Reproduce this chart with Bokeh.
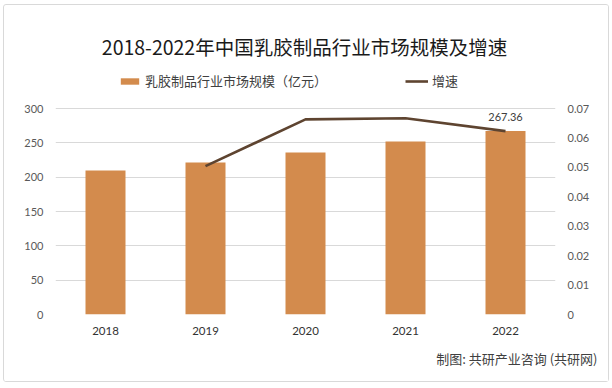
from bokeh.plotting import figure
from bokeh.models import (Range1d, LinearAxis, FixedTicker, ColumnDataSource, Legend,
                          LegendItem, Title, Label)
from bokeh.embed import file_html
from bokeh.resources import INLINE
from bokeh.core.properties import value

years = ["2018", "2019", "2020", "2021", "2022"]
market_size = [209.7, 221.4, 235.9, 252.0, 267.36]
growth_years = ["2019", "2020", "2021", "2022"]
growth_rate = [0.0504, 0.0663, 0.0667, 0.0623]
left_ticks = [0, 50, 100, 150, 200, 250, 300]
right_ticks = [0, 0.01, 0.02, 0.03, 0.04, 0.05, 0.06, 0.07]
right_tick_labels = ["0", "0.01", "0.02", "0.03", "0.04", "0.05", "0.06", "0.07"]
title_text = "2018-2022年中国乳胶制品行业市场规模及增速"
bar_name = "乳胶制品行业市场规模（亿元）"
line_name = "增速"
source_text = "制图: 共研产业咨询 (共研网)"
data_label = "267.36"

BAR = "#D38B4D"
LINE = "#5E4430"
GRID = "#D9D9D9"
AX = "#595959"
CJK = "Noto Sans CJK SC"
LAT = "Lato"

# frame spans from the top of the chart area down to the zero line; the value
# ranges are extended upward so that 0..300 sits in the lower part of the frame
LEFT_MAX = 300
RIGHT_MAX = 0.07
FRAME_H = 309.0
DATA_H = 206.0

p = figure(width=606, height=378, x_range=years,
           y_range=Range1d(0, LEFT_MAX * FRAME_H / DATA_H),
           output_backend="svg", toolbar_location=None,
           min_border_left=51, min_border_right=55, min_border_top=0, min_border_bottom=69)
p.outline_line_color = None
p.background_fill_color = "white"
p.border_fill_color = "white"
p.extra_y_ranges = {"growth": Range1d(0, RIGHT_MAX * FRAME_H / DATA_H)}

bars = ColumnDataSource(dict(x=years, y=market_size))
r_bar = p.vbar(x="x", top="y", width=0.4, source=bars, fill_color=BAR, line_color=None)

gsrc = ColumnDataSource(dict(x=growth_years, y=growth_rate))
r_line = p.line(x="x", y="y", source=gsrc, line_color=LINE, line_width=2.6, y_range_name="growth")

lsrc = ColumnDataSource(dict(x=[years[-1]], y=[market_size[-1]], t=[data_label]))
p.text(x="x", y="y", text="t", source=lsrc, y_offset=-14, text_align="center",
       text_baseline="middle", text_font=value(LAT), text_font_size="11px", text_color="#404040")

# axes
p.yaxis.ticker = FixedTicker(ticks=left_ticks)
ra = LinearAxis(y_range_name="growth", ticker=FixedTicker(ticks=right_ticks))
ra.major_label_overrides = {t: l for t, l in zip(right_ticks, right_tick_labels)}
p.add_layout(ra, "right")
for ax in [p.yaxis[0], ra, p.xaxis[0]]:
    ax.axis_line_color = None
    ax.major_tick_line_color = None
    ax.minor_tick_line_color = None
    ax.major_label_text_font = LAT
    ax.major_label_text_font_size = "11px"
    ax.major_label_text_color = AX
    ax.major_tick_in = 0
    ax.major_tick_out = 0
p.yaxis[0].major_label_standoff = 12
ra.major_label_standoff = 12
p.xaxis.major_label_standoff = 12
p.xaxis.major_label_text_font_size = "11.5px"
p.xaxis.major_label_text_color = "#333333"
p.xgrid.grid_line_color = None
p.ygrid.grid_line_color = GRID
p.ygrid.grid_line_width = 1

# legend (frame-relative pixel position, bottom-left corner)
legend = Legend(items=[LegendItem(label=bar_name, renderers=[r_bar]),
                       LegendItem(label=line_name, renderers=[r_line])],
                orientation="horizontal", location=(63, 224),
                label_text_font=CJK, label_text_font_size="13px", label_text_color="#404040",
                glyph_width=23, glyph_height=8, label_standoff=4, spacing=78,
                padding=0, margin=0, border_line_color=None, background_fill_alpha=0)
p.add_layout(legend, "center")

# title
p.add_layout(Label(x=249, y=268, x_units="screen", y_units="screen", text=title_text,
                   text_font=CJK, text_font_size="19.5px", text_color="#1A1A1A",
                   text_align="center", text_baseline="middle"))

# footer
foot = Title(text=source_text, align="right", offset=-42, text_font=CJK,
             text_font_size="13px", text_font_style="normal", text_color="#404040", standoff=18)
p.add_layout(foot, "below")

p.styles = {"border": "1px solid #D9D9D9", "border-radius": "3px",
            "margin-left": "3px", "margin-top": "4px"}

open("out.html", "w").write(file_html(p, INLINE))
